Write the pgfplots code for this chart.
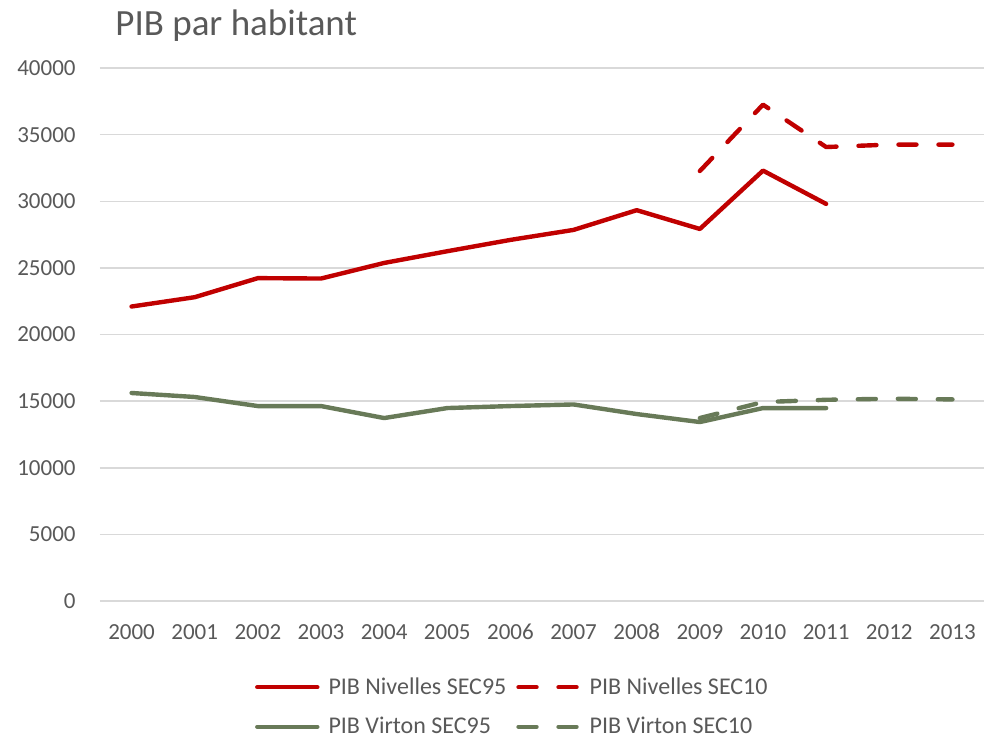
\documentclass[border=0pt]{standalone}
\usepackage{pgfplots}
\pgfplotsset{compat=1.18}
\usepackage{fontspec}
\setmainfont{Carlito}
\definecolor{nivred}{HTML}{C00000}
\definecolor{virgreen}{HTML}{687A58}
\definecolor{txtgray}{HTML}{595959}
\definecolor{gridgray}{HTML}{D9D9D9}

\begin{document}
\begin{tikzpicture}
\useasboundingbox (-50pt,-69.5pt) rectangle (442pt,300.5pt);
\begin{axis}[
  scale only axis, width=442pt, height=266.5pt,
  xmin=-0.5, xmax=13.5, ymin=0, ymax=40000,
  xtick={0,1,...,13},
  xticklabels={2000,2001,2002,2003,2004,2005,2006,2007,2008,2009,2010,2011,2012,2013},
  ytick={0,5000,...,40000},
  scaled y ticks=false,
  /pgf/number format/set thousands separator={},
  /pgf/number format/assume math mode=true,
  axis line style={draw=none}, major tick length=0pt,
  ymajorgrids, grid style={gridgray, line width=0.75pt},
  ticklabel style={font=\fontsize{11.5}{13}\selectfont, text=txtgray, inner sep=0pt},
  xticklabel style={anchor=center, yshift=-15.5pt},
  yticklabel style={anchor=east, xshift=-12pt},
  legend columns=2,
  legend cell align=left,
  legend image code/.code={\draw[#1] (1pt,0pt) -- (31pt,0pt);},
  legend style={at={(axis description cs:0.175,-0.1425)}, anchor=north west,
    draw=none, fill=none, inner sep=0pt,
    font=\fontsize{12}{14}\selectfont, text=txtgray,
    row sep=10pt,
    nodes={inner xsep=2pt, inner ysep=0pt},
    /tikz/every odd column/.append style={column sep=2.5pt},
    /tikz/every even column/.append style={column sep=3pt}},
  every axis plot/.append style={line width=2.2pt, line join=round, line cap=round},
]
\addplot[nivred] coordinates {(0,22100)(1,22800)(2,24230)(3,24200)(4,25370)(5,26250)(6,27100)(7,27850)(8,29330)(9,27920)(10,32300)(11,29800)};
\addlegendentry{PIB Nivelles SEC95}
\addplot[nivred, dash pattern=on 9pt off 11pt] coordinates {(9,32270)(10,37250)(11,34070)(12,34250)(13,34250)};
\addlegendentry{PIB Nivelles SEC10}
\addplot[virgreen] coordinates {(0,15610)(1,15310)(2,14630)(3,14630)(4,13730)(5,14480)(6,14630)(7,14750)(8,14030)(9,13430)(10,14480)(11,14480)};
\addlegendentry{PIB Virton SEC95}
\addplot[virgreen, dash pattern=on 9pt off 11pt] coordinates {(9,13730)(10,14930)(11,15100)(12,15180)(13,15130)};
\addlegendentry{PIB Virton SEC10}
\end{axis}
\node[anchor=base west, font=\fontsize{18.5}{22}\selectfont, text=txtgray, inner sep=0pt] at (7.5pt,282.5pt) {PIB par habitant};
\end{tikzpicture}
\end{document}
